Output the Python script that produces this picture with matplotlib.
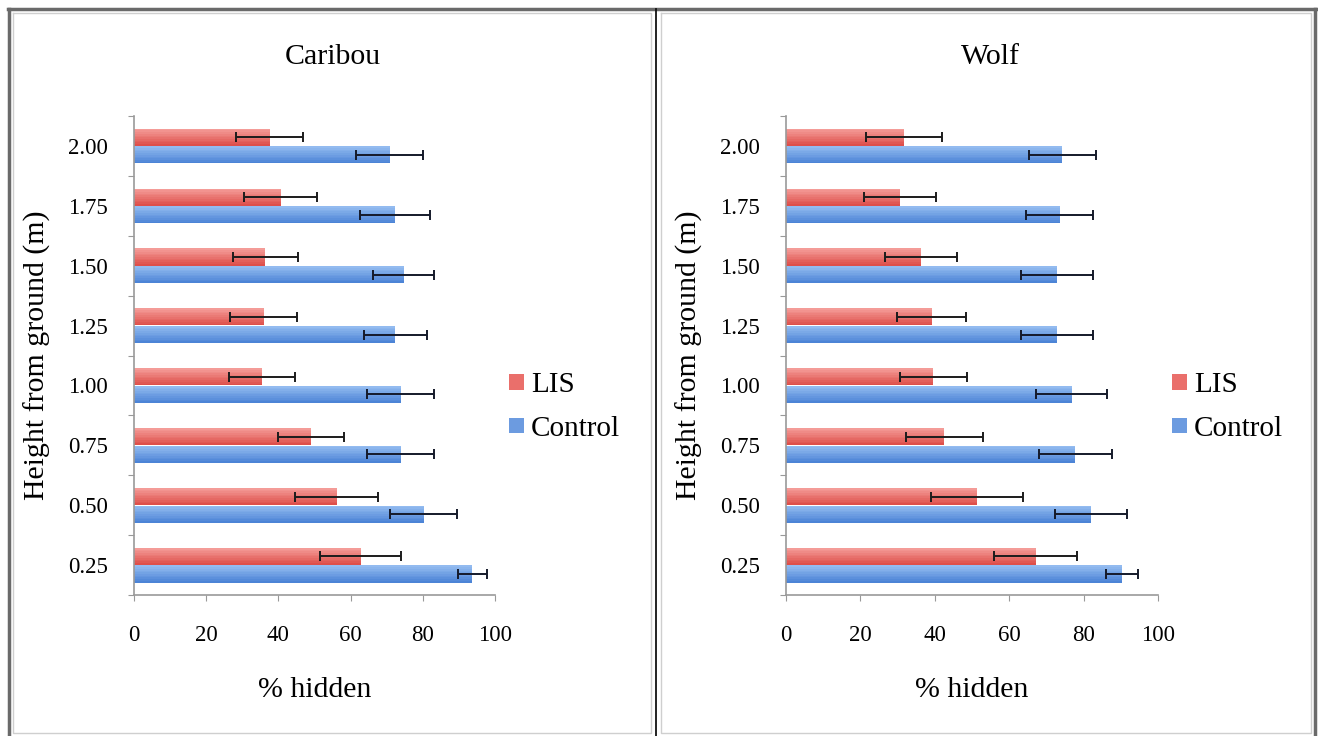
import numpy as np
import matplotlib
matplotlib.use("Agg")
import matplotlib.pyplot as plt
from matplotlib.patches import Patch
from matplotlib.colors import to_rgb

plt.rcParams['font.family'] = ['Liberation Serif', 'DejaVu Serif']

heights = ["0.25", "0.50", "0.75", "1.00", "1.25", "1.50", "1.75", "2.00"]

# Caribou panel (% hidden)
caribou_lis = [62.8, 56.1, 49.1, 35.5, 35.9, 36.4, 40.6, 37.6]
caribou_lis_err = [11.2, 11.4, 9.1, 9.1, 9.2, 9.0, 10.2, 9.3]
caribou_ctrl = [93.7, 80.2, 73.9, 73.9, 72.4, 74.7, 72.4, 70.8]
caribou_ctrl_err = [4.0, 9.2, 9.3, 9.3, 8.7, 8.4, 9.7, 9.2]

# Wolf panel (% hidden)
wolf_lis = [67.1, 51.4, 42.6, 39.6, 39.2, 36.2, 30.7, 31.7]
wolf_lis_err = [11.2, 12.4, 10.3, 9.0, 9.3, 9.7, 9.7, 10.3]
wolf_ctrl = [90.2, 82.1, 77.8, 76.8, 72.9, 72.9, 73.6, 74.2]
wolf_ctrl_err = [4.3, 9.7, 9.8, 9.6, 9.7, 9.6, 9.0, 9.0]

series_names = ["LIS", "Control"]
red_light, red_dark = "#f49c98", "#de4f4a"
blue_light, blue_dark = "#93bbf0", "#4c84d6"

W, H = 1318, 736
fig = plt.figure(figsize=(W / 100, H / 100), dpi=100)

# page frame (table cells around both charts)
bg = fig.add_axes([0, 0, 1, 1], zorder=-1)
bg.set_xlim(0, W)
bg.set_ylim(H, 0)
bg.axis('off')
bg.plot([8, W], [9, 9], color='#6a6a6a', lw=2.5)
bg.plot([9, 9], [9, H], color='#6a6a6a', lw=2.5)
bg.plot([W - 3, W - 3], [9, H], color='#6a6a6a', lw=2.5)
bg.plot([656, 656], [9, H], color='#111111', lw=1.3)
for x0, x1 in [(13, 651), (661, W - 7)]:
    bg.plot([x0, x1, x1, x0, x0], [13, 13, H - 3, H - 3, 13], color='#cfcfcf', lw=1)


def grad_barh(ax, y, vals, h, c_light, c_dark, n=10):
    # bars with a light-to-dark vertical gradient (top lighter)
    cl = np.array(to_rgb(c_light))
    cd = np.array(to_rgb(c_dark))
    for k in range(n):
        t = k / (n - 1)
        col = cl * (1 - t) + cd * t
        off = h / 2 - (k + 0.5) * h / n
        ax.barh(y + off, vals, height=h / n * 1.02, color=col, lw=0, zorder=2)


def panel(x0, x1, title, title_x, lis, lis_err, ctrl, ctrl_err):
    ytop, ybot = 116, 595
    ax = fig.add_axes([x0 / W, 1 - ybot / H, (x1 - x0) / W, (ybot - ytop) / H])
    y = np.arange(len(heights))
    bh = 0.285
    grad_barh(ax, y + 0.145, lis, bh, red_light, red_dark)
    grad_barh(ax, y - 0.15, ctrl, bh, blue_light, blue_dark)
    ax.errorbar(lis, y + 0.145, xerr=lis_err, fmt='none', ecolor='#1c1c1c',
                elinewidth=1.4, capsize=3.6, capthick=1.4, zorder=3)
    ax.errorbar(ctrl, y - 0.15, xerr=ctrl_err, fmt='none', ecolor='#151a2a',
                elinewidth=1.4, capsize=3.6, capthick=1.4, zorder=3)

    ax.set_xlim(0, 100)
    ax.set_ylim(-0.5, len(heights) - 0.5)
    ax.set_xticks(np.arange(0, 101, 20))
    ax.set_yticks(np.arange(-0.5, len(heights), 1))
    ax.set_yticklabels([])
    ax.set_yticks(y, labels=heights, minor=True)
    ax.tick_params(axis='x', length=4.3, color='#999999', labelsize=16.5, pad=17)
    ax.tick_params(axis='y', which='major', length=4.3, color='#999999')
    ax.tick_params(axis='y', which='minor', length=0, labelsize=16.5, pad=19)
    for s in ['top', 'right']:
        ax.spines[s].set_visible(False)
    for s in ['left', 'bottom']:
        ax.spines[s].set_color('#9a9a9a')
        ax.spines[s].set_linewidth(1.2)

    ax.set_ylabel("Height from ground (m)", fontsize=21.5)
    ax.yaxis.set_label_coords(-97 / (x1 - x0), 0.5)
    ax.yaxis.label.set_va('center')
    ax.set_xlabel("% hidden", fontsize=21.5)
    ax.xaxis.set_label_coords(0.5, (595 - 690) / (ybot - ytop))
    ax.xaxis.label.set_va('center')

    fig.text(title_x / W, 1 - 57 / H, title, ha='center', va='center', fontsize=21.5)

    handles = [Patch(facecolor="#ea6f6b", lw=0), Patch(facecolor="#6c9be0", lw=0)]
    ax.legend(handles, series_names, loc='center left',
              bbox_to_anchor=((x1 + 14 - x0) / (x1 - x0), 0.392),
              frameon=False, fontsize=21, handlelength=0.5, handleheight=0.45,
              handletextpad=0.25, labelspacing=0.6, borderpad=0, borderaxespad=0)
    return ax


panel(134, 495, "Caribou", 333, caribou_lis, caribou_lis_err, caribou_ctrl, caribou_ctrl_err)
panel(786, 1158, "Wolf", 990, wolf_lis, wolf_lis_err, wolf_ctrl, wolf_ctrl_err)

fig.savefig("out.png", dpi=100)
